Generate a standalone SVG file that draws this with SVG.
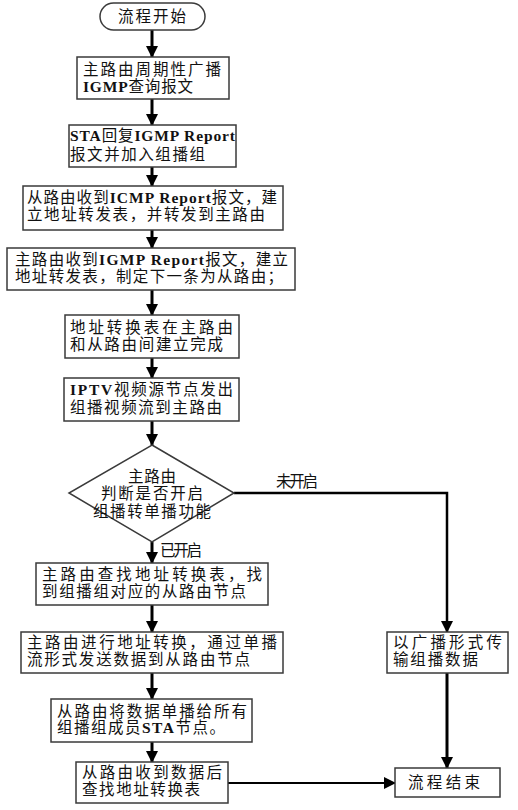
<svg xmlns="http://www.w3.org/2000/svg" width="518" height="810" viewBox="0 0 518 810">
<style>
.box{fill:#fff;stroke:#3a3a3a;stroke-width:1.5}
.t{font-family:"Liberation Serif","Noto Sans CJK SC",serif;font-size:15.5px;fill:#111}
.b{font-weight:bold}
.c{text-anchor:middle}
.ln{fill:none;stroke:#000;stroke-width:3}
</style>
<defs>
<marker id="ah" markerUnits="userSpaceOnUse" markerWidth="12" markerHeight="12" viewBox="0 0 12 12" refX="11" refY="6" orient="auto">
<path d="M0,0 L12,6 L0,12 z" fill="#000"/>
</marker>
</defs>
<rect width="518" height="810" fill="#fff"/>
<g id="connectors">
<line class="ln" x1="152" y1="30" x2="152" y2="57" marker-end="url(#ah)"/>
<line class="ln" x1="152" y1="99" x2="152" y2="125" marker-end="url(#ah)"/>
<line class="ln" x1="152" y1="167" x2="152" y2="186" marker-end="url(#ah)"/>
<line class="ln" x1="152" y1="230" x2="152" y2="248" marker-end="url(#ah)"/>
<line class="ln" x1="152" y1="290" x2="152" y2="315" marker-end="url(#ah)"/>
<line class="ln" x1="152" y1="358" x2="152" y2="378" marker-end="url(#ah)"/>
<line class="ln" x1="152" y1="421" x2="152" y2="445" marker-end="url(#ah)"/>
<line class="ln" x1="152" y1="542" x2="152" y2="563" marker-end="url(#ah)"/>
<line class="ln" x1="152" y1="605" x2="152" y2="632" marker-end="url(#ah)"/>
<line class="ln" x1="152" y1="673" x2="152" y2="699" marker-end="url(#ah)"/>
<line class="ln" x1="152" y1="742" x2="152" y2="762" marker-end="url(#ah)"/>
<polyline class="ln" points="234,493 447,493 447,632" marker-end="url(#ah)" style="stroke-width:2.5"/>
<line class="ln" x1="447" y1="673" x2="447" y2="768" marker-end="url(#ah)"/>
<line class="ln" x1="228" y1="783" x2="395" y2="783" marker-end="url(#ah)" style="stroke-width:2"/>
<text class="t" x="276" y="487" textLength="42">未开启</text>
<text class="t" x="160" y="556" textLength="42">已开启</text>
</g>
<g id="start">
<rect class="box" x="100" y="3" width="105" height="27" rx="13.5"/>
<text class="t" x="118" y="22" textLength="68">流程开始</text>
</g>
<g id="n1">
<rect class="box" x="77" y="57" width="152" height="42"/>
<text class="t" x="83" y="75" textLength="138">主路由周期性广播</text>
<text class="t" x="83" y="92" textLength="110"><tspan class="b">IGMP</tspan>查询报文</text>
</g>
<g id="n2">
<rect class="box" x="69" y="125" width="167" height="42"/>
<text class="t" x="70" y="141" textLength="165"><tspan class="b">STA</tspan>回复<tspan class="b">IGMP Report</tspan></text>
<text class="t" x="70" y="160" textLength="135">报文并加入组播组</text>
</g>
<g id="n3">
<rect class="box" x="23" y="186" width="260" height="44"/>
<text class="t" x="27" y="203" textLength="250">从路由收到<tspan class="b">ICMP Report</tspan>报文，建</text>
<text class="t" x="27" y="220" textLength="238">立地址转发表，并转发到主路由</text>
</g>
<g id="n4">
<rect class="box" x="7" y="248" width="288" height="42"/>
<text class="t" x="15" y="265" textLength="273">主路由收到<tspan class="b">IGMP Report</tspan>报文，建立</text>
<text class="t" x="15" y="282" textLength="268">地址转发表，制定下一条为从路由；</text>
</g>
<g id="n5">
<rect class="box" x="65" y="315" width="174" height="43"/>
<text class="t" x="70" y="333" textLength="163">地址转换表在主路由</text>
<text class="t" x="70" y="350" textLength="153">和从路由间建立完成</text>
</g>
<g id="n6">
<rect class="box" x="64" y="378" width="175" height="43"/>
<text class="t" x="70" y="395" textLength="163"><tspan class="b">IPTV</tspan>视频源节点发出</text>
<text class="t" x="70" y="413" textLength="152">组播视频流到主路由</text>
</g>
<g id="decision">
<polygon class="box" points="152,445 234,493 152,542 69,493"/>
<text class="t c" x="152" y="482" textLength="48">主路由</text>
<text class="t c" x="152" y="499" textLength="102">判断是否开启</text>
<text class="t c" x="152" y="517" textLength="118">组播转单播功能</text>
</g>
<g id="n7">
<rect class="box" x="36" y="563" width="232" height="42"/>
<text class="t" x="42" y="580" textLength="220">主路由查找地址转换表，找</text>
<text class="t" x="42" y="597" textLength="204">到组播组对应的从路由节点</text>
</g>
<g id="n8">
<rect class="box" x="21" y="632" width="262" height="41"/>
<text class="t" x="27" y="648" textLength="250">主路由进行地址转换，通过单播</text>
<text class="t" x="27" y="665" textLength="223">流形式发送数据到从路由节点</text>
</g>
<g id="n9">
<rect class="box" x="51" y="699" width="201" height="43"/>
<text class="t" x="57" y="717" textLength="190">从路由将数据单播给所有</text>
<text class="t" x="57" y="733" textLength="168">组播组成员<tspan class="b">STA</tspan>节点。</text>
</g>
<g id="n10">
<rect class="box" x="76" y="762" width="152" height="41"/>
<text class="t" x="82" y="778" textLength="140">从路由收到数据后</text>
<text class="t" x="82" y="795" textLength="118">查找地址转换表</text>
</g>
<g id="nb">
<rect class="box" x="387" y="632" width="121" height="41"/>
<text class="t" x="393" y="648" textLength="109">以广播形式传</text>
<text class="t" x="393" y="665" textLength="85">输组播数据</text>
</g>
<g id="end">
<rect class="box" x="395" y="768" width="105" height="29"/>
<text class="t" x="408" y="788" textLength="72">流程结束</text>
</g>
</svg>
